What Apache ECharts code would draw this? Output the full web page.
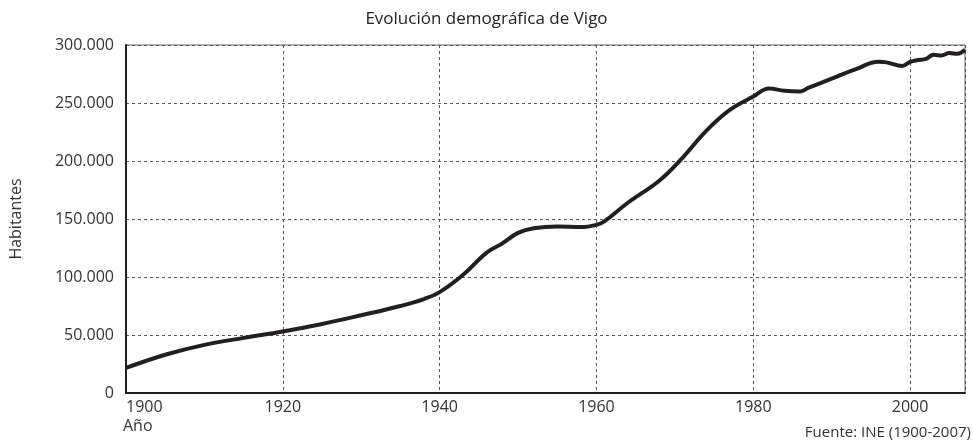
<!DOCTYPE html>
<html>
<head>
<meta charset="utf-8">
<script src="https://cdn.jsdelivr.net/npm/echarts@6/dist/echarts.min.js"></script>
<style>
  html, body { margin: 0; padding: 0; background: #fff; }
  #main { width: 973px; height: 444px; }
</style>
</head>
<body>
<div id="main"></div>
<script>
// años
const years = [1900, 1905, 1910, 1915, 1920, 1925, 1930, 1935, 1938, 1940,
  1943, 1946, 1948, 1950, 1952, 1955, 1958, 1960, 1961, 1964,
  1968, 1971, 1974, 1977, 1980, 1982, 1984, 1986, 1987, 1990,
  1993, 1996, 1997, 1999, 2000, 2001, 2002, 2003, 2004, 2005, 2006, 2007];
// habitantes
const habitantes = [21600, 33000, 41500, 47500, 53000, 59500, 67000, 75000, 81000, 87000,
  102000, 121000, 129000, 138000, 142000, 143500, 143000, 145000, 148000, 164000,
  183000, 203000, 226000, 244000, 255500, 262500, 260500, 260000, 263000, 271000,
  279000, 285500, 285000, 282000, 285500, 287000, 288000, 291500, 291000, 293000, 292500, 296000];

const FONT = 'Open Sans';

function miles(v) {
  return String(v).replace(/\B(?=(\d{3})+(?!\d))/g, '.');
}

const myChart = echarts.init(document.querySelector('#main'));
const option = {
  animation: false,
  title: {
    text: 'Evolución demográfica de Vigo',
    left: 'center',
    top: 6,
    textStyle: { fontFamily: FONT, fontSize: 17, fontWeight: 'normal', color: '#222' }
  },
  grid: {
    left: 126, right: 8, top: 45, bottom: 51,
    show: true, borderColor: '#666', borderWidth: 1
  },
  xAxis: {
    type: 'value',
    min: 1900, max: 2007, interval: 20,
    axisLine: { lineStyle: { color: '#231f20', width: 2 } },
    axisTick: { show: false },
    axisLabel: {
      fontFamily: FONT, fontSize: 16, color: '#333', margin: 6,
      showMaxLabel: false, alignMinLabel: 'left',
      formatter: v => String(v)
    },
    splitLine: { show: true, lineStyle: { color: '#555', type: [3, 3], width: 1 } }
  },
  yAxis: {
    type: 'value',
    min: 0, max: 300000, interval: 50000,
    name: 'Habitantes',
    nameLocation: 'middle',
    nameGap: 102,
    nameTextStyle: { fontFamily: FONT, fontSize: 16, color: '#333' },
    axisLine: { show: true, lineStyle: { color: '#231f20', width: 2 } },
    axisTick: { show: false },
    axisLabel: { fontFamily: FONT, fontSize: 16, color: '#333', margin: 12, formatter: miles },
    splitLine: { show: true, lineStyle: { color: '#555', type: [3, 3], width: 1 } }
  },
  graphic: [
    {
      type: 'text', left: 123, top: 418,
      style: { text: 'Año', fontFamily: FONT, fontSize: 16, fill: '#333' }
    },
    {
      type: 'text', right: 2, top: 425,
      style: { text: 'Fuente: INE (1900-2007)', fontFamily: FONT, fontSize: 15, fill: '#333' }
    }
  ],
  series: [
    {
      type: 'line',
      data: years.map((y, i) => [y, habitantes[i]]),
      smooth: 0.4,
      showSymbol: false,
      lineStyle: { color: '#231f20', width: 4 }
    }
  ]
};
myChart.setOption(option);
</script>
</body>
</html>
